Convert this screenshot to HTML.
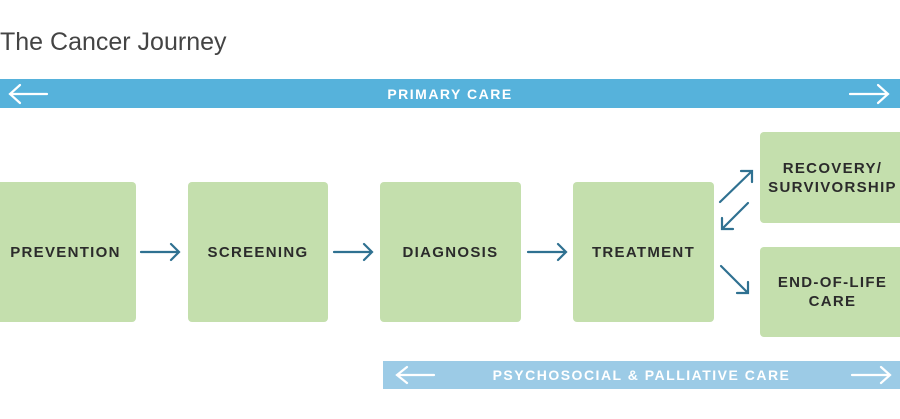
<!DOCTYPE html>
<html><head><style>
body{margin:0;width:900px;height:419px;background:#fff;position:relative;overflow:hidden;font-family:"Liberation Sans",sans-serif}
.t{position:absolute;left:0;top:28px;font-size:25px;color:#444}
.bar{position:absolute;color:#fff;font-weight:bold;letter-spacing:1.5px;font-size:14px;display:flex;align-items:center;justify-content:center}
.b{position:absolute;background:#c4dfad;border-radius:4px;display:flex;align-items:center;justify-content:center;text-align:center;font-weight:bold;font-size:15px;letter-spacing:1.3px;color:#2b2b2b;line-height:19px}
svg{position:absolute;left:0;top:0}
</style></head><body>
<div class="t">The Cancer Journey</div>
<div class="bar" style="left:0;top:79px;width:900px;height:29px;background:#56b2db">PRIMARY CARE</div>
<div class="bar" style="left:383px;top:361px;width:517px;height:28px;background:#9ccbe6">PSYCHOSOCIAL &amp; PALLIATIVE CARE</div>
<div class="b" style="left:-5px;top:182px;width:141px;height:140px">PREVENTION</div>
<div class="b" style="left:188px;top:182px;width:140px;height:140px">SCREENING</div>
<div class="b" style="left:380px;top:182px;width:141px;height:140px">DIAGNOSIS</div>
<div class="b" style="left:573px;top:182px;width:141px;height:140px">TREATMENT</div>
<div class="b" style="left:760px;top:132px;width:145px;height:91px">RECOVERY/<br>SURVIVORSHIP</div>
<div class="b" style="left:760px;top:247px;width:145px;height:90px">END-OF-LIFE<br>CARE</div>
<svg width="900" height="419" fill="none" stroke-linecap="round">
<g stroke="#fff" stroke-width="2.2">
<path d="M10 94H47M20 85L10 94L20 103"/>
<path d="M850 94H888M878 85L888 94L878 103"/>
<path d="M397 375H434M407 367L397 375L407 383"/>
<path d="M852 375H890M881 367L890 375L881 383"/>
</g>
<g stroke="#2f7191" stroke-width="2.2">
<path d="M141 252H179M171 244L179 252L171 260"/>
<path d="M334 252H372M364 244L372 252L364 260"/>
<path d="M528 252H566M558 244L566 252L558 260"/>
<path d="M720 202L752 171M741 171L752 171L752 182"/>
<path d="M748 203L722 229M722 218L722 229L733 229"/>
<path d="M721 266L748 293M748 282L748 293L737 293"/>
</g>
</svg>
</body></html>
